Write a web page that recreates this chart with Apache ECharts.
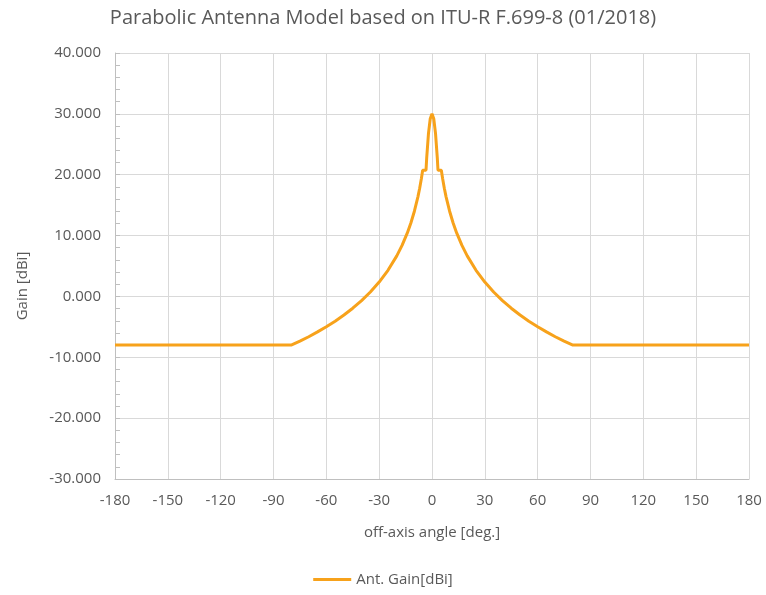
<!DOCTYPE html>
<html>
<head>
<meta charset="utf-8">
<script src="https://cdn.jsdelivr.net/npm/echarts@6/dist/echarts.min.js"></script>
<style>
html,body{margin:0;padding:0;background:#fff;}
#chart{width:766px;height:595px;}
</style>
</head>
<body>
<div id="chart"></div>
<script>
var titleText = 'Parabolic Antenna Model based on ITU-R F.699-8 (01/2018)';
var seriesName = 'Ant. Gain[dBi]';
var xAxisName = 'off-axis angle [deg.]';
var yAxisName = 'Gain [dBi]';

var angles = [-180,-150,-120,-90,-80,-75,-70,-65,-60,-55,-50,-45,-40,-35,-30,-25,-20,-17,-14,-12,-10,-8,-7,-6,-5.3,-3.4,-3,-2,-1,0,
              1,2,3,3.4,5.3,6,7,8,10,12,14,17,20,25,30,35,40,45,50,55,60,65,70,75,80,90,120,150,180];
var gains = [-8.0,-8.0,-8.0,-8.0,-8.0,-7.35,-6.62,-5.83,-4.99,-4.07,-3.06,-1.94,-0.69,0.72,2.36,4.29,6.66,8.38,10.43,12.07,14.0,16.36,17.78,19.41,20.73,20.73,22.8,26.8,29.2,30.0,
             29.2,26.8,22.8,20.73,20.73,19.41,17.78,16.36,14.0,12.07,10.43,8.38,6.66,4.29,2.36,0.72,-0.69,-1.94,-3.06,-4.07,-4.99,-5.83,-6.62,-7.35,-8.0,-8.0,-8.0,-8.0,-8.0];

var FONT = '"Open Sans", sans-serif';
var TXT = '#595959';
var LINE = '#F7A21B';

var chart = echarts.init(document.getElementById('chart'));
chart.setOption({
  animation: false,
  backgroundColor: '#fff',
  title: {
    text: titleText, left: 'center', top: 3,
    textStyle: { fontFamily: FONT, fontSize: 20, fontWeight: 'normal', color: TXT }
  },
  legend: {
    bottom: 3, left: 'center',
    itemWidth: 38, itemHeight: 3, itemGap: 10,
    textStyle: { fontFamily: FONT, fontSize: 15, color: TXT },
    data: [{ name: seriesName, icon: 'rect' }]
  },
  grid: { left: 115, right: 17, top: 53, bottom: 116, containLabel: false },
  xAxis: {
    type: 'value', min: -180, max: 180, interval: 30,
    name: xAxisName, nameLocation: 'middle', nameGap: 46,
    nameTextStyle: { fontFamily: FONT, fontSize: 15, color: TXT },
    axisLine: { show: true, onZero: false, lineStyle: { color: '#bfbfbf', width: 1 } },
    axisTick: { show: false },
    axisLabel: { fontFamily: FONT, fontSize: 15, color: TXT, margin: 14 },
    splitLine: { show: true, lineStyle: { color: '#d9d9d9', width: 1 } }
  },
  yAxis: {
    type: 'value', min: -30, max: 40, interval: 10,
    name: yAxisName, nameLocation: 'middle', nameGap: 85,
    nameTextStyle: { fontFamily: FONT, fontSize: 15, color: TXT, padding: [0, 40, 0, 0] },
    axisLine: { show: true, onZero: false, lineStyle: { color: '#bfbfbf', width: 1 } },
    axisTick: { show: true, inside: true, length: 5, lineStyle: { color: '#bfbfbf' } },
    minorTick: { show: true, splitNumber: 5, length: 5, lineStyle: { color: '#bfbfbf' } },
    axisLabel: { fontFamily: FONT, fontSize: 15, color: TXT, margin: 14,
      formatter: function (v) { return v.toFixed(3); } },
    splitLine: { show: true, lineStyle: { color: '#d9d9d9', width: 1 } }
  },
  series: [{
    name: seriesName, type: 'line', symbol: 'none', smooth: false,
    data: angles.map(function (a, i) { return [a, gains[i]]; }),
    lineStyle: { color: LINE, width: 3 },
    itemStyle: { color: LINE }
  }]
});
</script>
</body>
</html>
